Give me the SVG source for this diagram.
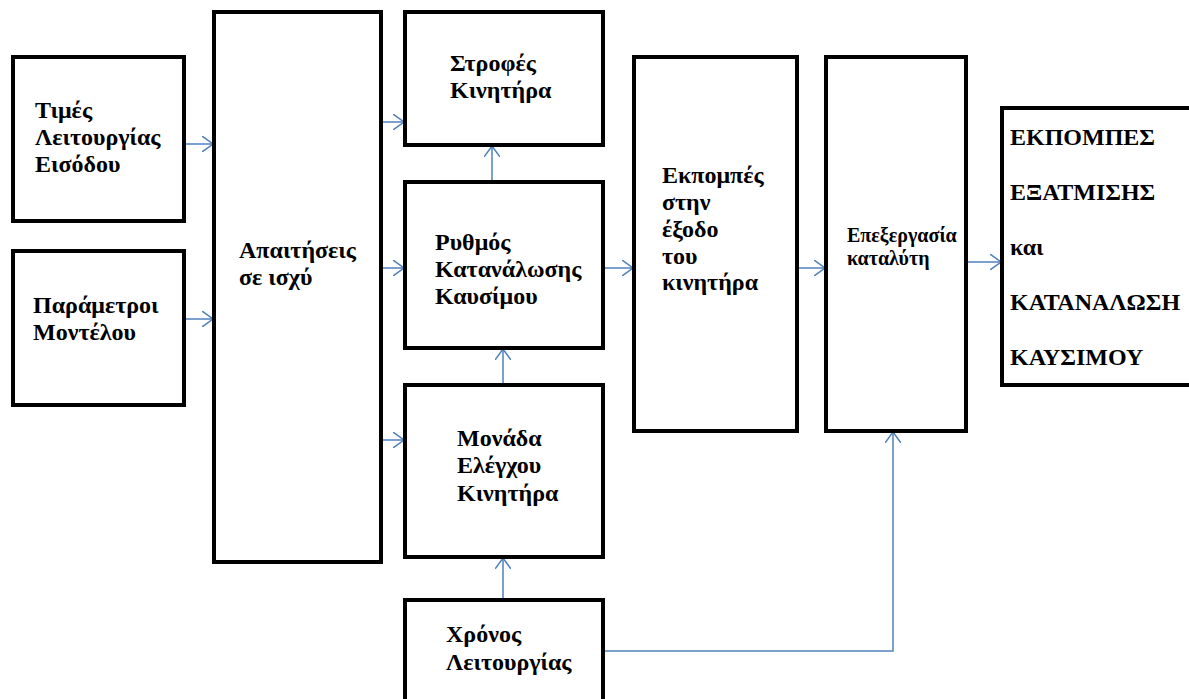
<svg xmlns="http://www.w3.org/2000/svg" width="1189" height="699" viewBox="0 0 1189 699">
<style>
.box{fill:#fff;stroke:#000;stroke-width:4}
text{font-family:'Liberation Serif','Times New Roman',Times,serif;font-weight:700;font-size:24px;fill:#000}
.s{font-size:20px}
.c{fill:none;stroke:#4F81BD;stroke-width:1.5}
</style>
<defs>
<marker id="a" viewBox="0 0 12 16" refX="11" refY="8" markerWidth="12" markerHeight="16" markerUnits="userSpaceOnUse" orient="auto">
<path d="M0,0 L11,8 L0,16" fill="none" stroke="#4F81BD" stroke-width="1.5"/>
</marker>
</defs>
<rect width="1189" height="699" fill="#fff"/>
<g id="connectors">
<path class="c" d="M184,144 H213" marker-end="url(#a)"/>
<path class="c" d="M184,319 H213" marker-end="url(#a)"/>
<path class="c" d="M377,122 H404" marker-end="url(#a)"/>
<path class="c" d="M377,268 H404" marker-end="url(#a)"/>
<path class="c" d="M377,440 H404" marker-end="url(#a)"/>
<path class="c" d="M492,182 V146" marker-end="url(#a)"/>
<path class="c" d="M503,385 V349" marker-end="url(#a)"/>
<path class="c" d="M503,600 V558" marker-end="url(#a)"/>
<path class="c" d="M603,268 H633" marker-end="url(#a)"/>
<path class="c" d="M797,268 H825" marker-end="url(#a)"/>
<path class="c" d="M966,262 H1001" marker-end="url(#a)"/>
<path class="c" d="M603,651 H893 V432" marker-end="url(#a)"/>
</g>
<g id="timesLeitourgias">
<rect class="box" x="13" y="57" width="171" height="164"/>
<text x="35" y="118">Τιμές</text>
<text x="35" y="145">Λειτουργίας</text>
<text x="35" y="172">Εισόδου</text>
</g>
<g id="parametroi">
<rect class="box" x="13" y="251" width="171" height="154"/>
<text x="33" y="313">Παράμετροι</text>
<text x="33" y="340">Μοντέλου</text>
</g>
<g id="apaitiseis">
<rect class="box" x="214" y="12" width="167" height="550"/>
<text x="239" y="258">Απαιτήσεις</text>
<text x="239" y="285">σε ισχύ</text>
</g>
<g id="strofes">
<rect class="box" x="405" y="12" width="198" height="133"/>
<text x="450" y="71">Στροφές</text>
<text x="450" y="98">Κινητήρα</text>
</g>
<g id="rythmos">
<rect class="box" x="405" y="182" width="198" height="166"/>
<text x="435" y="250">Ρυθμός</text>
<text x="435" y="277">Κατανάλωσης</text>
<text x="435" y="304">Καυσίμου</text>
</g>
<g id="monada">
<rect class="box" x="405" y="385" width="198" height="172"/>
<text x="457" y="446">Μονάδα</text>
<text x="457" y="473">Ελέγχου</text>
<text x="457" y="501">Κινητήρα</text>
</g>
<g id="xronos">
<rect class="box" x="405" y="600" width="198" height="110"/>
<text x="446" y="642">Χρόνος</text>
<text x="446" y="670">Λειτουργίας</text>
</g>
<g id="ekpompes">
<rect class="box" x="634" y="57" width="163" height="374"/>
<text x="662" y="183">Εκπομπές</text>
<text x="662" y="210">στην</text>
<text x="662" y="237">έξοδο</text>
<text x="662" y="264">του</text>
<text x="662" y="290">κινητήρα</text>
</g>
<g id="epexergasia">
<rect class="box" x="826" y="57" width="140" height="374"/>
<text class="s" x="847" y="242">Επεξεργασία</text>
<text class="s" x="847" y="265">καταλύτη</text>
</g>
<g id="result">
<rect class="box" x="1002" y="108" width="200" height="277"/>
<text x="1010" y="145">ΕΚΠΟΜΠΕΣ</text>
<text x="1010" y="200">ΕΞΑΤΜΙΣΗΣ</text>
<text x="1010" y="255">και</text>
<text x="1010" y="310">ΚΑΤΑΝΑΛΩΣΗ</text>
<text x="1010" y="365">ΚΑΥΣΙΜΟΥ</text>
</g>
</svg>
